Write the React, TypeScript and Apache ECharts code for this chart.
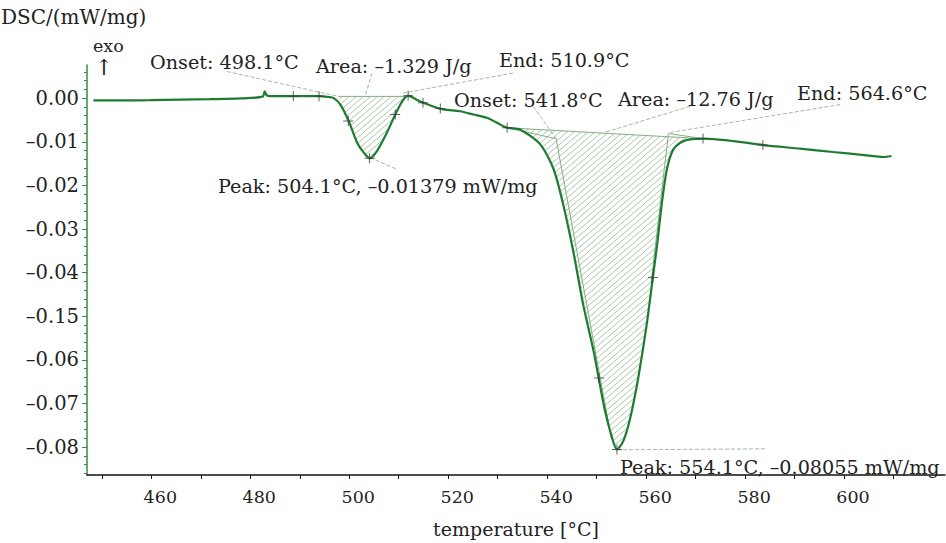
import { useEffect, useRef } from "react";
import * as echarts from "echarts";

// ---- data ----
const TEMPS = [
  448.3, 453.7, 459.8, 465.9, 471.9, 478.0, 482.5, 482.9, 483.3, 484.0, 488.7, 493.9, 495.8, 496.8,
  498.2, 499.9, 501.6, 502.9, 504.1, 505.6, 507.6, 509.3, 510.7, 511.9, 513.6, 514.9, 518.4, 522.4,
  525.1, 527.8, 530.5, 531.9, 534.5, 538.6, 541.3, 543.3, 545.3, 547.3, 549.4, 550.4, 551.7, 553.1,
  554.1, 555.4, 556.8, 558.4, 560.1, 561.35, 562.2, 563.2, 564.2, 565.5, 567.5, 571.6, 577.6, 583.7,
  591.1, 597.8, 604.6, 607.9, 609.6,
];
const DSC = [
  -0.0005, -0.00052, -0.00046, -0.00034, -0.00023, -0.00007, 0.00034, 0.00155, 0.00068, 0.00046,
  0.00046, 0.00046, 0.00027, 0.00005, -0.00148, -0.00529, -0.01021, -0.01242, -0.01379, -0.01212,
  -0.00793, -0.00376, -0.00073, 0.00057, -0.00034, -0.00103, -0.00246, -0.00301, -0.00376, -0.00451,
  -0.00604, -0.00679, -0.00718, -0.0106, -0.0163, -0.02466, -0.03528, -0.04745, -0.05807, -0.06415,
  -0.07174, -0.07783, -0.08055, -0.07858, -0.07327, -0.06415, -0.052, -0.0412, -0.03377, -0.02388,
  -0.0163, -0.01174, -0.00985, -0.0093, -0.00985, -0.01076, -0.01158, -0.01235, -0.0131, -0.01349,
  -0.01326,
];

// cross markers
const MARK_T = [488.7, 493.9, 499.8, 504.1, 509.3, 511.9, 514.9, 518.4, 531.9, 550.5, 554.1, 561.35, 571.5, 583.6];
const MARK_V = [0.00046, 0.00046, -0.00524, -0.01379, -0.00376, 0.00057, -0.00103, -0.00239, -0.00679, -0.06415, -0.08055, -0.04113, -0.00923, -0.01076];

// peak integration ranges (baseline end points)
const PEAK1_BASE: [number, number][] = [[497.8, 0.0004], [511.6, 0.0004]];
const PEAK2_BASE: [number, number][] = [[531.9, -0.00679], [571.6, -0.0093]];

// tangent construction lines
const TANGENTS: [number, number][][] = [
  PEAK1_BASE,
  PEAK2_BASE,
  [[531.9, -0.00679], [541.8, -0.0093]],
  [[541.8, -0.0093], [553.0, -0.0781]],
  [[564.5, -0.0081], [571.6, -0.0093]],
  [[564.5, -0.0081], [561.0, -0.0425]],
];

// annotation leader lines
const LEADERS: [number, number][][] = [
  [[475.3, 0.0061], [498.2, 0.0003]],
  [[504.6, 0.00574], [503.2, 0.0004]],
  [[533.1, 0.00574], [510.9, 0.00119]],
  [[504.2, -0.01363], [509.6, -0.0163]],
  [[537.2, -0.00187], [541.8, -0.0093]],
  [[568.9, -0.00187], [551.4, -0.00793]],
  [[599.2, -0.00148], [564.85, -0.00786]],
  [[554.1, -0.08063], [584.4, -0.0804]],
];

const ANNOTATIONS = [
  { text: "Onset: 498.1°C", x: 150, y: 62 },
  { text: "Area: –1.329 J/g", x: 316, y: 66 },
  { text: "End: 510.9°C", x: 499, y: 60 },
  { text: "Peak: 504.1°C, –0.01379 mW/mg", x: 218, y: 186 },
  { text: "Onset: 541.8°C", x: 454, y: 100 },
  { text: "Area: –12.76 J/g", x: 618, y: 99 },
  { text: "End: 564.6°C", x: 797, y: 93 },
  { text: "Peak: 554.1°C, –0.08055 mW/mg", x: 620, y: 467 },
];

const X_TICKS = [450, 460, 470, 480, 490, 500, 510, 520, 530, 540, 550, 560, 570, 580, 590, 600, 610];
const X_LABELS = [460, 480, 500, 520, 540, 560, 580, 600];
const Y_TICK_VALUES = [0, -0.01, -0.02, -0.03, -0.04, -0.05, -0.06, -0.07, -0.08];
const Y_TICK_LABELS = ["0.00", "–0.01", "–0.02", "–0.03", "–0.04", "–0.15", "–0.06", "–0.07", "–0.08"];
const Y_MINOR = [
  0.006, 0.004, 0.002, 0, -0.002, -0.004, -0.006, -0.008, -0.01, -0.012, -0.014, -0.016, -0.018, -0.02,
  -0.022, -0.024, -0.026, -0.028, -0.03, -0.032, -0.034, -0.036, -0.038, -0.04, -0.042, -0.044, -0.046,
  -0.048, -0.05, -0.052, -0.054, -0.056, -0.058, -0.06, -0.062, -0.064, -0.066, -0.068, -0.07, -0.072,
  -0.074, -0.076, -0.078, -0.08, -0.082, -0.084, -0.086,
];

const FONT = '"DejaVu Serif", serif';
const CURVE_COLOR = "#1e7b30";
const AXIS_GREEN = "#2f8f3f";

function peakPolygon(base: [number, number][]): [number, number][] {
  const pts: [number, number][] = [base[0]];
  for (let i = 0; i < TEMPS.length; i++) {
    if (TEMPS[i] > base[0][0] && TEMPS[i] < base[1][0]) pts.push([TEMPS[i], DSC[i]]);
  }
  pts.push(base[1]);
  return pts;
}

function makeHatch(): HTMLCanvasElement {
  const w = 7;
  const h = 6;
  const c = document.createElement("canvas");
  c.width = w;
  c.height = h;
  const ctx = c.getContext("2d")!;
  ctx.strokeStyle = "#a8c6a8";
  ctx.lineWidth = 1;
  for (const off of [-w, 0, w]) {
    ctx.beginPath();
    ctx.moveTo(off - 1, h + h / w);
    ctx.lineTo(off + w + 1, -h / w);
    ctx.stroke();
  }
  return c;
}

function lineSeries(pts: [number, number][], color: string, type: any, width: number, z: number) {
  return {
    type: "line",
    data: pts,
    showSymbol: false,
    symbol: "none",
    silent: true,
    z,
    lineStyle: { color, width, type },
  };
}

export default function App() {
  const ref = useRef<HTMLDivElement>(null);
  useEffect(() => {
    if (!ref.current) return;
    const chart = echarts.init(ref.current, null, { renderer: "svg" });
    const hatch = makeHatch();
    const pattern = { image: hatch, repeat: "repeat", imageWidth: 7, imageHeight: 6 };
    const polys = [peakPolygon(PEAK1_BASE), peakPolygon(PEAK2_BASE)];
    const curve = TEMPS.map((t, i) => [t, DSC[i]]);
    const marks = MARK_T.map((t, i) => [t, MARK_V[i]]);

    chart.setOption({
      animation: false,
      grid: { left: 87, right: 1, top: 65, bottom: 65.3, containLabel: false },
      xAxis: {
        type: "value",
        min: 447,
        max: 620.4,
        name: "temperature [°C]",
        nameLocation: "middle",
        nameGap: 44,
        nameTextStyle: { fontFamily: FONT, fontSize: 19, color: "#222", padding: [0, 0, 0, 0] },
        axisLine: { show: true, onZero: false, lineStyle: { color: "#111", width: 1.5 } },
        axisTick: { show: true, customValues: X_TICKS, length: 4, lineStyle: { color: "#111" } },
        axisLabel: {
          customValues: X_LABELS,
          fontFamily: FONT,
          fontSize: 17.5,
          color: "#222",
          margin: 13,
          padding: [0, 0, 0, 18],
        },
        splitLine: { show: false },
      },
      yAxis: [
        {
          type: "value",
          min: -0.0864,
          max: 0.0076,
          position: "left",
          axisLine: { show: true, onZero: false, lineStyle: { color: AXIS_GREEN, width: 1.5 } },
          axisTick: { show: true, customValues: Y_TICK_VALUES, length: 5, lineStyle: { color: AXIS_GREEN } },
          axisLabel: {
            customValues: Y_TICK_VALUES,
            fontFamily: FONT,
            fontSize: 19.5,
            color: "#222",
            margin: 8,
            formatter: (v: number) => {
              const i = Y_TICK_VALUES.findIndex((x) => Math.abs(x - v) < 1e-9);
              return i >= 0 ? Y_TICK_LABELS[i] : "";
            },
          },
          splitLine: { show: false },
        },
        {
          type: "value",
          min: -0.0864,
          max: 0.0076,
          position: "left",
          axisLine: { show: false, onZero: false },
          axisTick: { show: true, customValues: Y_MINOR, length: 3, lineStyle: { color: AXIS_GREEN } },
          axisLabel: { show: false },
          splitLine: { show: false },
        },
      ],
      graphic: [
        {
          type: "text",
          x: 1,
          y: 17,
          style: { text: "DSC/(mW/mg)", font: `20px ${FONT}`, fill: "#222", textVerticalAlign: "middle" },
        },
        {
          type: "text",
          x: 93,
          y: 46,
          style: { text: "exo", font: `17.5px ${FONT}`, fill: "#222", textVerticalAlign: "middle" },
        },
        {
          type: "text",
          x: 104,
          y: 67,
          style: { text: "↑", font: `22px ${FONT}`, fill: "#222", textAlign: "center", textVerticalAlign: "middle" },
        },
        ...ANNOTATIONS.map((a) => ({
          type: "text",
          x: a.x,
          y: a.y,
          z: 100,
          style: { text: a.text, font: `19.2px ${FONT}`, fill: "#222", textVerticalAlign: "middle" },
        })),
      ],
      series: [
        {
          type: "custom",
          z: 1,
          silent: true,
          data: [[0, 0], [1, 0]],
          renderItem: (params: any, api: any) => {
            const pts = polys[params.dataIndex].map((p) => api.coord(p));
            return { type: "polygon", shape: { points: pts }, style: { fill: pattern, stroke: null } };
          },
        },
        ...TANGENTS.map((p) => lineSeries(p, "#86ad86", "solid", 1, 2)),
        ...LEADERS.map((p) => lineSeries(p, "#a2b8a2", [4, 2], 1, 2)),
        {
          type: "line",
          data: curve,
          showSymbol: false,
          symbol: "none",
          smooth: 0.25,
          z: 5,
          lineStyle: { color: CURVE_COLOR, width: 2.2 },
        },
        {
          type: "scatter",
          data: marks,
          symbol: "path://M4.5,0h1v10h-1z M0,4.5h10v1h-10z",
          symbolSize: 10,
          z: 6,
          itemStyle: { color: "#3a3a3a" },
        },
      ],
    });
    return () => chart.dispose();
  }, []);
  return <div ref={ref} style={{ position: "absolute", left: 0, top: 0, width: 946, height: 543 }} />;
}
